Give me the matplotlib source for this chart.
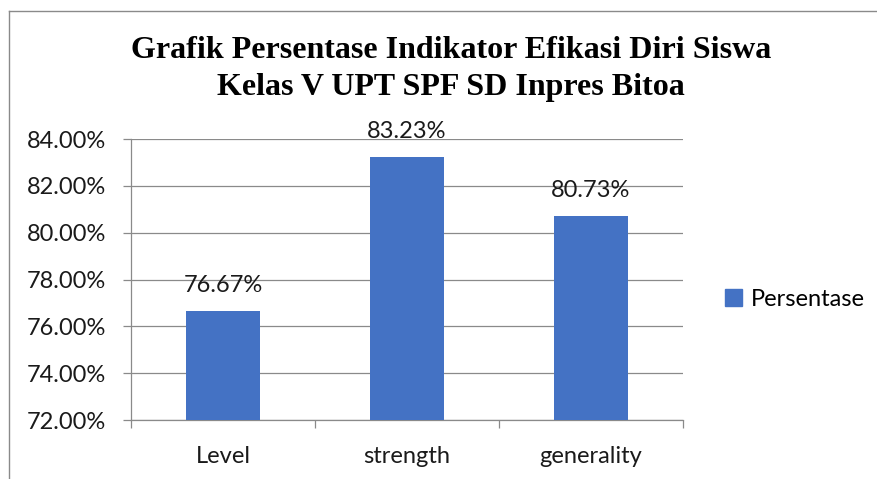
import matplotlib.pyplot as plt
from matplotlib.lines import Line2D
from matplotlib.patches import Patch

categories = ["Level", "strength", "generality"]
values = [76.67, 83.23, 80.73]
yticks = [72, 74, 76, 78, 80, 82, 84]
series_name = "Persentase"

W, H = 878, 479
fig = plt.figure(figsize=(W / 100, H / 100), dpi=100)
ax = fig.add_axes([131 / W, 1 - 420 / H, (683 - 131) / W, (420 - 139) / H])

sans = ["Lato", "DejaVu Sans"]
grey = "#8a8a8a"
blue = "#4472C4"
fs = 17

x = list(range(len(categories)))
ax.bar(x, values, width=0.4, color=blue, zorder=3)
ax.set_xlim(-0.5, 2.5)
ax.set_ylim(72, 84)

for xi, v in zip(x, values):
    ax.annotate(f"{v:.2f}%", (xi, v), xytext=(0, 13.5), textcoords="offset points",
                ha="center", va="baseline", fontsize=fs, family=sans, color="#1a1a1a")

ax.set_yticks(yticks)
ax.set_yticklabels([f"{t:.2f}%" for t in yticks], family=sans, fontsize=fs)
ax.yaxis.grid(True, color=grey, linewidth=0.9, zorder=0)
ax.tick_params(axis="y", length=6, width=0.9, color=grey, pad=12, labelcolor="#1a1a1a")

ax.set_xticks(x)
ax.set_xticklabels(categories, family=sans, fontsize=fs)
ax.tick_params(axis="x", which="major", length=0, pad=19, labelcolor="#1a1a1a")
ax.set_xticks([-0.5, 0.5, 1.5, 2.5], minor=True)
ax.tick_params(axis="x", which="minor", length=6, width=0.9, color=grey)

for s in ["top", "right"]:
    ax.spines[s].set_visible(False)
for s in ["left", "bottom"]:
    ax.spines[s].set_color(grey)
    ax.spines[s].set_linewidth(0.9)

fig.text(451 / W, 1 - 69 / H, "Grafik Persentase Indikator Efikasi Diri Siswa\nKelas V UPT SPF SD Inpres Bitoa",
         ha="center", va="center", fontsize=23, fontweight="bold",
         family=["Liberation Serif", "DejaVu Serif"], linespacing=1.32)

fig.legend(handles=[Patch(color=blue, label=series_name)], loc="center left",
           bbox_to_anchor=(704 / W, 1 - 299 / H), frameon=False,
           prop={"family": sans, "size": fs}, handlelength=0.7, handleheight=0.7,
           handletextpad=0.4)

ty = 1 - 11 / H
fig.add_artist(Line2D([9 / W, 1], [ty, ty], color=grey, linewidth=1))
fig.add_artist(Line2D([9 / W, 9 / W], [0, ty], color=grey, linewidth=1))

fig.savefig("out.png", dpi=100)
